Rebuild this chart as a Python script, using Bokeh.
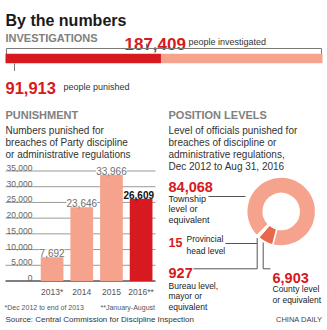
import numpy as np
from bokeh.plotting import figure
from bokeh.models import Range1d, ColumnDataSource
from bokeh.core.properties import value
from bokeh.embed import file_html
from bokeh.resources import INLINE

# ---------------- data ----------------
investigated = 187409
punished = 91913

years = ["2013*", "2014", "2015", "2016**"]
punish_counts = [7692, 23646, 33966, 26609]
bar_ticks = [0, 5000, 10000, 15000, 20000, 25000, 30000, 35000]
tick_labels = ["0", "5,000", "10,000", "15,000", "20,000", "25,000", "30,000", "35,000"]

levels = ["Township level or equivalent", "County level or equivalent",
          "Bureau level, mayor or equivalent", "Provincial head level"]
level_counts = [84068, 6903, 927, 15]

# ---------------- style ----------------
W, H = 327, 330
RED = "#d71920"
PINK = "#f5a38d"
DARK = "#e9684b"
GRAY = "#808080"
SANS = "Liberation Sans"


def Y(py):
    return H - py


p = figure(width=W, height=H, x_range=Range1d(0, W), y_range=Range1d(0, H),
           x_axis_type=None, y_axis_type=None, min_border=0,
           toolbar_location=None, output_backend="svg")
p.grid.visible = False
p.outline_line_color = None
p.background_fill_color = "white"
p.border_fill_color = "white"

# extra ranges mapping data to layout positions
k_inv = investigated / (322 - 5)
p.extra_x_ranges["inv"] = Range1d(-5 * k_inv, (W - 5) * k_inv)

k_bar = 35000 / 110.0
y0 = Y(280.5)
p.extra_y_ranges["bary"] = Range1d(-y0 * k_bar, (H - y0) * k_bar)
step = 29.67
c0 = 51.6
p.extra_x_ranges["barx"] = Range1d(-c0 / step, (W - c0) / step)


def txt(x, y, s, size, color="#2b2b2b", font=SANS, style="normal", align="left",
        xr="default", yr="default", **kw):
    xs = x if isinstance(x, list) else [x]
    ys = y if isinstance(y, list) else [y]
    ss = s if isinstance(s, list) else [s]
    src = ColumnDataSource(dict(x=xs, y=ys, t=ss))
    p.text(x="x", y="y", text="t", source=src, text_font=value(font),
           text_font_size=size, text_color=color, text_font_style=style,
           text_align=align, text_baseline="alphabetic",
           x_range_name=xr, y_range_name=yr, **kw)


def line(pts, color="#666666", width=1.0):
    p.line([a for a, b in pts], [Y(b) for a, b in pts], line_color=color, line_width=width)


# ---------------- header ----------------
txt(5, Y(20), "By the numbers", "16px", color="#1a1a1a", style="bold")
txt(5, Y(37), "INVESTIGATIONS", "11px", color=GRAY, style="bold")
txt(124, Y(43), f"{investigated:,}", "17px", color=RED, style="bold")
txt(188, Y(41.5), "people investigated", "9px", color="#333333")

line([(6, 55), (6, 48), (321, 48), (321, 55)], color="#7a7a7a")
line([(146, 43), (146, 48)], color="#7a7a7a")

p.hbar(y=[Y(58), Y(58)], left=[0, punished], right=[punished, investigated],
       height=9.5, fill_color=[RED, PINK], line_color=None, x_range_name="inv")

line([(14, 63), (14, 70.5)], color="#7a7a7a")
txt(5, Y(87.5), f"{punished:,}", "16.5px", color=RED, style="bold")
txt(63, Y(86.5), "people punished", "9px", color="#333333")

# ---------------- punishment bar chart ----------------
txt(5, Y(114), "PUNISHMENT", "11px", color=GRAY, style="bold")
txt([5, 5, 5], [Y(129.5), Y(141.5), Y(153.5)],
    ["Numbers punished for", "breaches of Party discipline", "or administrative regulations"],
    "10px", color="#333333")

grid_src = ColumnDataSource(dict(x0=[5] * len(bar_ticks), x1=[155] * len(bar_ticks), y=bar_ticks,
                                 c=["#555555"] + ["#9a9a9a"] * (len(bar_ticks) - 1),
                                 w=[1.3] + [1.0] * (len(bar_ticks) - 1)))
p.segment(x0="x0", y0="y", x1="x1", y1="y", source=grid_src, line_color="c",
          line_width="w", y_range_name="bary")
txt([32] * len(bar_ticks), bar_ticks, tick_labels, "8.5px", color="#666666",
    align="right", yr="bary", y_offset=-3)

idx = list(range(len(years)))
p.vbar(x=idx, top=punish_counts, bottom=0, width=0.765,
       fill_color=[PINK, PINK, PINK, RED], line_color=None,
       x_range_name="barx", y_range_name="bary")

txt(idx[:3], punish_counts[:3], [f"{v:,}" for v in punish_counts[:3]], "10px",
    color="#6f6f6f", align="center", xr="barx", yr="bary", y_offset=-3.5,
    background_fill_color="white")
txt([idx[3] - 0.08], [punish_counts[3]], [f"{punish_counts[3]:,}"], "10px",
    color="#111111", style="bold", align="center", xr="barx", yr="bary",
    y_offset=-2.5, background_fill_color="white")

txt(idx, [Y(291.7)] * len(idx), years, "8.5px", color="#555555",
    align="center", xr="barx")

# ---------------- position levels donut ----------------
txt(168, Y(114), "POSITION LEVELS", "11px", color=GRAY, style="bold")
txt([168] * 4, [Y(129.5), Y(141.5), Y(153.5), Y(165.5)],
    ["Level of officials punished for", "breaches of discipline or",
     "administrative regulations,", "Dec 2012 to Aug 31, 2016"],
    "10px", color="#333333")

total = sum(level_counts)
cum = np.concatenate([[0], np.cumsum(level_counts)])
start = np.deg2rad(225 - cum[:-1] / total * 360.0)
end = np.deg2rad(225 - cum[1:] / total * 360.0)
p.annular_wedge(x=280.7, y=Y(211), inner_radius=18, outer_radius=34.5,
                start_angle=start, end_angle=end, direction="clock",
                fill_color=[PINK, DARK, "white", "white"],
                line_color="white", line_width=1.5)

txt(168, Y(186.5), f"{level_counts[0]:,}", "14.5px", color=RED, style="bold")
txt([168] * 3, [Y(198.3), Y(208.8), Y(219.3)], ["Township", "level or", "equivalent"],
    "9px", color="#222222")
line([(208, 196), (245, 196)], color="#555555")

txt(168, Y(242), f"{level_counts[3]:,}", "12.5px", color=RED, style="bold")
txt([186, 186], [Y(238.5), Y(250)], ["Provincial", "head level"], "8.5px", color="#222222")
line([(225, 243), (256.7, 243)], color="#555555")

txt(168, Y(272), f"{level_counts[2]:,}", "14.5px", color=RED, style="bold")
txt([168] * 3, [Y(285), Y(295.5), Y(306)], ["Bureau level,", "mayor or", "equivalent"],
    "8.5px", color="#222222")
line([(193, 268.3), (256.7, 268.3), (256.7, 237.5)], color="#555555")

txt(272, Y(277), f"{level_counts[1]:,}", "14.5px", color=RED, style="bold")
txt([272, 272], [Y(288), Y(299.5)], ["County level", "or equivalent"], "8.5px", color="#222222")
line([(270, 268.3), (262.7, 268.3), (262.7, 242)], color="#555555")

# ---------------- footer ----------------
txt(4, Y(306.7), "*Dec 2012 to end of 2013", "7px", color="#555555")
txt(100, Y(306.7), "**January-August", "7px", color="#555555")
txt(5, Y(318.5), "Source: Central Commission for Discipline Inspection", "8px",
    color="#333333")
txt(322, Y(318.5), "CHINA DAILY", "7.5px", color="#444444", align="right")

open("out.html", "w").write(file_html(p, INLINE))
